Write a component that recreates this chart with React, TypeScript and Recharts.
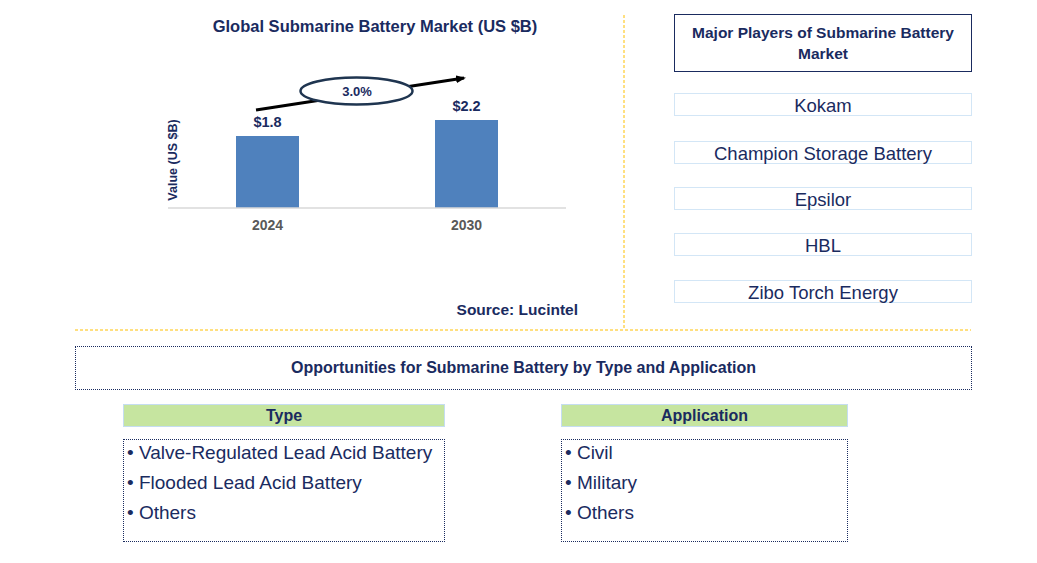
import React from 'react';
import { BarChart, Bar, XAxis, YAxis, LabelList } from 'recharts';

const years = ['2024', '2030'];
const values = [1.8, 2.2];
const valueLabels = ['$1.8', '$2.2'];
const cagrLabel = '3.0%';
const chartTitle = 'Global Submarine Battery Market (US $B)';
const yAxisTitle = 'Value (US $B)';
const sourceText = 'Source: Lucintel';
const playersTitle = 'Major Players of Submarine Battery Market';
const players = ['Kokam', 'Champion Storage Battery', 'Epsilor', 'HBL', 'Zibo Torch Energy'];
const opportunitiesTitle = 'Opportunities for Submarine Battery by Type and Application';
const typeTitle = 'Type';
const types = ['Valve-Regulated Lead Acid Battery', 'Flooded Lead Acid Battery', 'Others'];
const applicationTitle = 'Application';
const applications = ['Civil', 'Military', 'Others'];

const data = years.map((y, i) => ({ year: y, value: values[i], label: valueLabels[i] }));

const NAVY = '#1A2B5F';
const FONT = '"Liberation Sans", Arial, sans-serif';
const ORANGE = '#FFC000';
const playerBoxTops = [93, 141, 187, 233, 280];

const abs = (left: number, top: number, width: number, height: number): React.CSSProperties => ({
  position: 'absolute',
  left,
  top,
  width,
  height,
  boxSizing: 'border-box',
});

export default function App() {
  return (
    <div style={{ position: 'absolute', left: 0, top: 0, width: 1037, height: 563, background: '#fff', fontFamily: FONT, overflow: 'hidden' }}>
      <div style={{ position: 'absolute', left: 0, top: 0 }}>
        <BarChart width={1037} height={563} data={data} margin={{ top: 108, right: 471, bottom: 325, left: 168 }}>
          <YAxis hide width={0} domain={[0, 2.5]} type="number" />
          <XAxis
            dataKey="year"
            height={30}
            axisLine={{ stroke: '#D9D9D9', strokeWidth: 1.5 }}
            tickLine={false}
            tickMargin={6}
            tick={{ fill: '#595959', fontSize: 14, fontWeight: 'bold', fontFamily: FONT }}
          />
          <Bar dataKey="value" fill="#4F81BD" barSize={63} isAnimationActive={false}>
            <LabelList dataKey="label" position="top" offset={9} fill={NAVY} fontSize={14.5} fontWeight="bold" fontFamily={FONT} />
          </Bar>
        </BarChart>
      </div>

      <svg width={1037} height={563} style={{ position: 'absolute', left: 0, top: 0, pointerEvents: 'none' }}>
        <defs>
          <marker id="arrowHead" markerWidth="10" markerHeight="8" refX="8" refY="4" orient="auto" markerUnits="userSpaceOnUse">
            <path d="M0,0 L10,4 L0,8 Z" fill="#000" />
          </marker>
        </defs>
        <text x={375} y={32} textAnchor="middle" fontSize={16.5} fontWeight="bold" fill={NAVY} fontFamily={FONT}>{chartTitle}</text>
        <text x={0} y={0} transform="translate(177,160) rotate(-90)" textAnchor="middle" fontSize={12.5} fontWeight="bold" fill={NAVY} fontFamily={FONT}>{yAxisTitle}</text>
        <line x1={256} y1={110} x2={464} y2={78} stroke="#000" strokeWidth={3} markerEnd="url(#arrowHead)" />
        <ellipse cx={356.5} cy={91} rx={56} ry={13.5} fill="#fff" stroke="#1F3550" strokeWidth={2.5} />
        <text x={357} y={96} textAnchor="middle" fontSize={13} fontWeight="bold" fill={NAVY} fontFamily={FONT}>{cagrLabel}</text>
        <text x={578} y={315} textAnchor="end" fontSize={15.5} fontWeight="bold" fill={NAVY} fontFamily={FONT}>{sourceText}</text>
        <line x1={624} y1={15} x2={624} y2={328} stroke={ORANGE} strokeWidth={1} strokeDasharray="3 2" />
        <line x1={75} y1={330} x2={971} y2={330} stroke={ORANGE} strokeWidth={1} strokeDasharray="3 2" />
      </svg>

      <div style={{ ...abs(674, 14, 298, 58), border: `1.5px solid ${NAVY}`, display: 'flex', alignItems: 'center', justifyContent: 'center', textAlign: 'center', color: NAVY, fontWeight: 'bold', fontSize: 15.5, lineHeight: '21px', padding: '0 10px' }}>
        {playersTitle}
      </div>
      {players.map((p, i) => (
        <div key={p} style={{ ...abs(674, playerBoxTops[i], 298, 23), border: '1.5px solid #D3E6F6', display: 'flex', alignItems: 'center', justifyContent: 'center', color: NAVY, fontSize: 18.5, whiteSpace: 'nowrap', paddingTop: 2 }}>
          {p}
        </div>
      ))}

      <div style={{ ...abs(75, 346, 897, 44), border: `1px dotted ${NAVY}`, display: 'flex', alignItems: 'center', justifyContent: 'center', color: NAVY, fontWeight: 'bold', fontSize: 16 }}>
        {opportunitiesTitle}
      </div>

      {[{ title: typeTitle, items: types, left: 123, width: 322 }, { title: applicationTitle, items: applications, left: 561, width: 287 }].map((col) => (
        <React.Fragment key={col.title}>
          <div style={{ ...abs(col.left, 404, col.width, 23), background: '#C6E5A0', border: '1px solid #C5DDF1', display: 'flex', alignItems: 'center', justifyContent: 'center', color: NAVY, fontWeight: 'bold', fontSize: 16 }}>
            {col.title}
          </div>
          <div style={{ ...abs(col.left, 439, col.width, 103), border: `1px dotted ${NAVY}` }} />
          {col.items.map((it, i) => (
            <div key={it} style={{ ...abs(col.left + 4, 439 + i * 30, col.width - 6, 28), display: 'flex', alignItems: 'center', color: NAVY, fontSize: 19, whiteSpace: 'nowrap' }}>
              {'\u2022 ' + it}
            </div>
          ))}
        </React.Fragment>
      ))}
    </div>
  );
}
